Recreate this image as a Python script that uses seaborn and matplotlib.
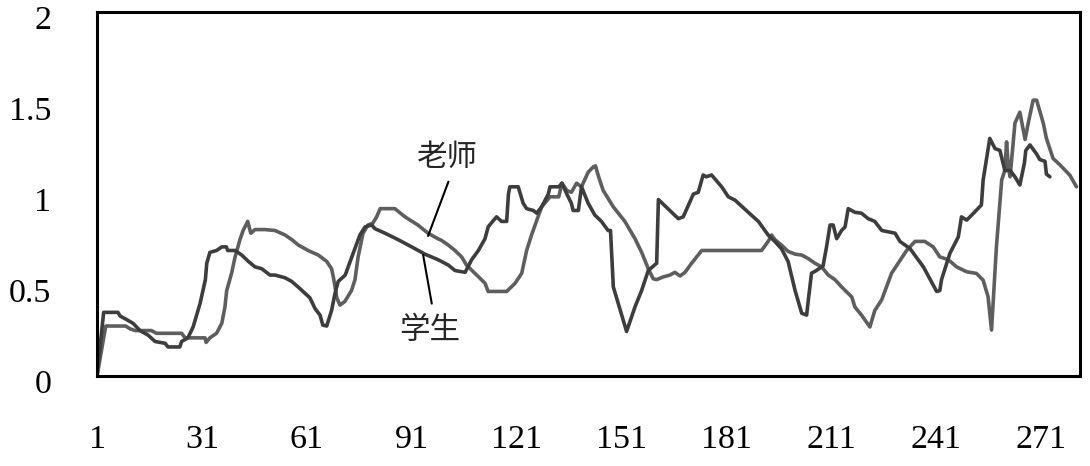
"""Teacher vs student line chart (recreated with seaborn)."""

import matplotlib

matplotlib.use("Agg")
import matplotlib.pyplot as plt
import matplotlib.transforms as mtransforms
import pandas as pd
import seaborn as sns

# teacher series (lighter gray line)
TEACHER_X = [1, 3.5, 9.2, 10.4, 11.9, 16.6, 18, 25.2, 26.2, 31.9, 32.2, 33.3, 35.2, 36.7,
             37.6, 38.1, 39.5, 40.5, 41.9, 42.8, 44.1, 45.0, 46.2, 49.0, 51.9, 54.8, 56.7,
             58.6, 61.4, 64.3, 66.7, 68.1, 68.6, 69.1, 69.6, 70.5, 71.9, 73.8, 74.8, 75.7,
             77.1, 78.5, 79.9, 81.0, 82.0, 86.2, 89.1, 92.8, 95.7, 98.5, 99.6, 101.5, 103.4,
             105.3, 106.7, 109.1, 112.0, 112.9, 118.2, 120.6, 122.5, 123.9, 125.3, 126.8,
             128.2, 130.6, 133.1, 134.0, 135.4, 136.7, 138.2, 139.6, 141.5, 143.0, 143.6,
             144.5, 145.8, 148.7, 152.0, 154.9, 156.8, 158.7, 160.1, 161.1, 163.0, 164.9,
             166.3, 167.8, 169.2, 171.1, 174.0, 191.1, 193.0, 194.0, 194.9, 196.8, 198.7,
             200.7, 202.6, 204.5, 206.4, 208.3, 210.2, 212.1, 214.0, 216.9, 217.8, 219.7,
             222.1, 223.5, 225.5, 228.3, 230.2, 232.6, 235.0, 237.8, 240.2, 242.1, 244.5,
             246.9, 249.8, 252.6, 254.5, 255.9, 256.9, 258.3, 259.8, 260.7, 261.2, 261.7,
             262.2, 263.6, 265.0, 266.5, 267.4, 268.8, 269.8, 271.7, 272.6, 274.5, 276.5,
             279.3, 281.2]
TEACHER_Y = [0, 0.275, 0.275, 0.26, 0.25, 0.25, 0.235, 0.235, 0.21, 0.21, 0.185, 0.21, 0.235,
             0.29, 0.38, 0.47, 0.565, 0.655, 0.75, 0.8, 0.85, 0.785, 0.805, 0.805, 0.8, 0.775,
             0.75, 0.72, 0.69, 0.665, 0.63, 0.59, 0.545, 0.49, 0.43, 0.39, 0.41, 0.47, 0.53,
             0.655, 0.785, 0.83, 0.84, 0.875, 0.92, 0.92, 0.875, 0.83, 0.785, 0.755, 0.745,
             0.72, 0.69, 0.655, 0.61, 0.565, 0.51, 0.465, 0.465, 0.51, 0.565, 0.69, 0.775,
             0.855, 0.93, 0.985, 0.985, 1.06, 1.02, 1.01, 1.06, 1.04, 1.12, 1.15, 1.155,
             1.095, 1.02, 0.93, 0.85, 0.755, 0.68, 0.59, 0.535, 0.53, 0.545, 0.555, 0.57,
             0.55, 0.57, 0.62, 0.69, 0.69, 0.74, 0.775, 0.75, 0.72, 0.685, 0.67, 0.665,
             0.645, 0.62, 0.6, 0.555, 0.53, 0.49, 0.435, 0.38, 0.335, 0.27, 0.36, 0.42,
             0.565, 0.62, 0.69, 0.74, 0.74, 0.71, 0.655, 0.64, 0.6, 0.573, 0.564, 0.527,
             0.436, 0.253, 0.71, 1.077, 1.13, 1.287, 1.15, 1.095, 1.39, 1.45, 1.30, 1.39,
             1.516, 1.516, 1.39, 1.306, 1.196, 1.16, 1.104, 1.04]

# student series (darker line)
STUDENT_X = [1, 2.9, 7.0, 7.6, 9.5, 11.3, 13.3, 15.6, 17.6, 20.5, 21.3, 24.7, 25.2, 27.0,
             28.5, 30.5, 32.0, 32.4, 33.3, 35.2, 36.7, 38.0, 38.4, 40.5, 42.4, 44.3, 46.2,
             48.1, 50.5, 51.9, 54.8, 56.7, 58.5, 60.5, 61.9, 63.4, 64.8, 65.6, 66.7, 68.1,
             69.1, 70.0, 72.0, 73.9, 76.2, 77.7, 79.6, 80.5, 83.4, 87.1, 91.0, 94.8, 98.5,
             101.5, 103.4, 106.3, 108.2, 110.1, 112.0, 112.9, 114.4, 115.3, 116.7, 118.2,
             118.7, 119.1, 121.5, 122.9, 123.9, 125.8, 126.8, 128.2, 130.1, 130.6, 133.1,
             134.0, 135.4, 136.7, 137.2, 138.7, 139.6, 141.5, 143.4, 145.3, 147.2, 147.9,
             148.7, 152.5, 154.9, 156.8, 158.7, 161.1, 161.6, 167.3, 168.7, 171.6, 173.0,
             174.4, 175.3, 176.8, 179.7, 181.6, 183.5, 187.3, 190.2, 193.0, 194.9, 196.8,
             198.7, 200.7, 202.6, 204.0, 204.5, 205.4, 206.8, 208.7, 209.7, 210.7, 211.6,
             212.6, 214.0, 215.0, 215.9, 217.8, 219.7, 221.6, 223.5, 225.5, 229.3, 230.7,
             233.6, 237.4, 241.2, 242.1, 242.6, 245.0, 247.4, 248.3, 249.8, 251.7, 254.0,
             254.5, 256.4, 257.9, 259.3, 260.7, 262.2, 263.6, 265.0, 266.3, 266.7, 267.9,
             269.8, 270.7, 272.2, 272.6, 273.6]
STUDENT_Y = [0, 0.35, 0.35, 0.33, 0.31, 0.29, 0.25, 0.225, 0.19, 0.18, 0.16, 0.16, 0.19, 0.21,
             0.27, 0.40, 0.53, 0.62, 0.68, 0.69, 0.71, 0.71, 0.69, 0.69, 0.665, 0.63, 0.60,
             0.59, 0.555, 0.555, 0.54, 0.52, 0.49, 0.455, 0.43, 0.37, 0.335, 0.28, 0.275,
             0.36, 0.455, 0.52, 0.555, 0.655, 0.775, 0.82, 0.83, 0.81, 0.785, 0.75, 0.71,
             0.67, 0.64, 0.61, 0.58, 0.57, 0.64, 0.69, 0.755, 0.82, 0.855, 0.875, 0.85, 0.85,
             1.0, 1.04, 1.04, 0.95, 0.92, 0.91, 0.895, 0.93, 1.0, 1.04, 1.04, 1.06, 1.0, 0.95,
             0.91, 0.91, 1.04, 0.95, 0.885, 0.85, 0.80, 0.80, 0.49, 0.245, 0.38, 0.47, 0.58,
             0.62, 0.97, 0.865, 0.875, 1.0, 1.01, 1.105, 1.095, 1.105, 1.04, 0.985, 0.967,
             0.9, 0.85, 0.775, 0.74, 0.70, 0.63, 0.47, 0.345, 0.335, 0.42, 0.565, 0.58, 0.605,
             0.71, 0.83, 0.83, 0.755, 0.80, 0.82, 0.92, 0.90, 0.895, 0.865, 0.85, 0.80, 0.785,
             0.74, 0.70, 0.60, 0.465, 0.47, 0.53, 0.675, 0.765, 0.875, 0.857, 0.894, 0.94,
             1.077, 1.306, 1.25, 1.24, 1.13, 1.13, 1.095, 1.05, 1.17, 1.24, 1.27, 1.22, 1.19,
             1.18, 1.11, 1.095]

X_TICKS = [1, 31, 61, 91, 121, 151, 181, 211, 241, 271]
Y_TICKS = [0, 0.5, 1, 1.5, 2]
Y_TICK_LABELS = ["0", "0.5", "1", "1.5", "2"]

TEACHER_LABEL = "老师"
STUDENT_LABEL = "学生"

TEACHER_COLOR = "#5e5e5e"
STUDENT_COLOR = "#3d3d3d"


def main():
    sns.set_style("white")
    plt.rcParams["font.family"] = ["Liberation Serif", "DejaVu Serif"]

    fig = plt.figure(figsize=(10.9, 4.66), dpi=100)
    ax = fig.add_axes([0.089, 0.193, 0.9018, 0.781])

    teacher = pd.DataFrame({"x": TEACHER_X, "y": TEACHER_Y})
    student = pd.DataFrame({"x": STUDENT_X, "y": STUDENT_Y})

    sns.lineplot(data=teacher, x="x", y="y", ax=ax, color=TEACHER_COLOR,
                 linewidth=2.6, estimator=None, sort=False)
    sns.lineplot(data=student, x="x", y="y", ax=ax, color=STUDENT_COLOR,
                 linewidth=2.6, estimator=None, sort=False)

    ax.set_xlim(1, 282.2)
    ax.set_ylim(0, 2)
    ax.set_xticks(X_TICKS)
    ax.set_yticks(Y_TICKS)
    ax.set_yticklabels(Y_TICK_LABELS)
    ax.set_xlabel("")
    ax.set_ylabel("")

    for side in ["left", "right", "top", "bottom"]:
        ax.spines[side].set_visible(True)
        ax.spines[side].set_color("black")
        ax.spines[side].set_linewidth(2.2)

    ax.tick_params(axis="both", direction="in", length=7, width=2.2,
                   colors="black", labelsize=24.5)
    ax.tick_params(axis="x", pad=35)
    ax.tick_params(axis="y", pad=33)

    # y labels sit a little below their ticks in the original
    shift = mtransforms.ScaledTranslation(0, -0.05, fig.dpi_scale_trans)
    for lab in ax.get_yticklabels():
        lab.set_transform(lab.get_transform() + shift)

    # series labels with leader lines
    cjk = ["Noto Sans CJK SC", "DejaVu Sans"]
    ax.annotate(TEACHER_LABEL, xy=(95.7, 0.77), xytext=(101.4, 1.2),
                ha="center", va="center", fontsize=22, family=cjk,
                arrowprops=dict(arrowstyle="-", color="black", lw=1.5,
                                relpos=(0.56, 0.0), shrinkA=4, shrinkB=0))
    ax.annotate(STUDENT_LABEL, xy=(94.3, 0.665), xytext=(96.3, 0.25),
                ha="center", va="center", fontsize=22, family=cjk,
                arrowprops=dict(arrowstyle="-", color="black", lw=1.5,
                                relpos=(0.56, 1.0), shrinkA=6, shrinkB=0))

    fig.savefig("out.png", dpi=100)


if __name__ == "__main__":
    main()
